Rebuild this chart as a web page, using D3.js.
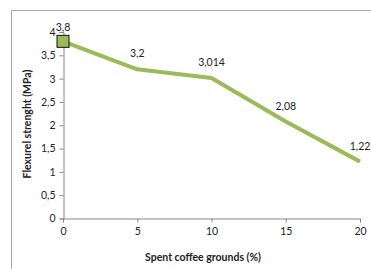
<!DOCTYPE html>
<html>
  <head>
    <meta charset="utf-8">
    <style>
      body { margin: 0; background: #fff; }
      text { font-family: Lato, "Open Sans", sans-serif; fill: #222; }
    </style>
  </head>
  <body>
    <div id="chart"></div>
    <script src="https://d3js.org/d3.v7.min.js"></script>
    <script>
      const coffee = [0, 5, 10, 15, 20];
      const strength = [3.8, 3.2, 3.014, 2.08, 1.22];
      const labels = ['3,8', '3,2', '3,014', '2,08', '1,22'];
      const yTicks = [0, 0.5, 1, 1.5, 2, 2.5, 3, 3.5, 4];
      const xTicks = [0, 5, 10, 15, 20];

      const W = 371, H = 269;
      const svg = d3.select('#chart').append('svg')
        .attr('width', W).attr('height', H);

      // outer frame (only top and left visible)
      svg.append('path')
        .attr('d', `M11.5,${H} V10.5 H${W}`)
        .attr('fill', 'none')
        .attr('stroke', '#aaa');

      let x = d3.scaleLinear().domain([0, 20]).range([63, 360]);
      let y = d3.scaleLinear().domain([0, 4]).range([218.5, 32]);

      const fmt = d => String(d).replace('.', ',');

      let yAxis = svg.append('g')
        .attr('transform', 'translate(63.5,0)')
        .call(d3.axisLeft(y).tickValues(yTicks).tickSize(4).tickFormat(fmt));
      let xAxis = svg.append('g')
        .attr('transform', 'translate(0,218.5)')
        .call(d3.axisBottom(x).tickValues(xTicks).tickSize(4).tickFormat(fmt));

      [yAxis, xAxis].forEach(a => {
        a.select('.domain').attr('stroke', '#888');
        a.selectAll('.tick line').attr('stroke', '#888');
        a.selectAll('text').style('font-size', '10.5px').attr('fill', '#222')
          .style('font-family', 'Lato, sans-serif');
      });
      yAxis.selectAll('text').attr('x', -8);
      xAxis.selectAll('text').attr('y', 9);

      const pts = coffee.map((c, i) => [c, strength[i]]);

      svg.append('path')
        .datum(pts)
        .attr('fill', 'none')
        .attr('stroke', '#9bbb59')
        .attr('stroke-width', 4)
        .attr('stroke-linejoin', 'round')
        .attr('d', d3.line().x(d => x(d[0])).y(d => y(d[1])));

      // marker on first point
      svg.append('rect')
        .attr('x', x(coffee[0]) - 6)
        .attr('y', y(strength[0]) - 6)
        .attr('width', 12).attr('height', 12)
        .attr('fill', '#9bbb59')
        .attr('stroke', '#111')
        .attr('stroke-width', 1);

      svg.append('g').selectAll('text')
        .data(pts)
        .enter()
        .append('text')
        .attr('x', d => x(d[0]))
        .attr('y', (d, i) => y(d[1]) - (i === 0 ? 10 : 12))
        .attr('text-anchor', 'middle')
        .style('font-size', '10.5px')
        .text((d, i) => labels[i]);

      svg.append('text')
        .attr('x', 203).attr('y', 261)
        .attr('text-anchor', 'middle')
        .style('font-size', '10.5px')
        .style('font-weight', 'bold')
        .text('Spent coffee grounds (%)');

      svg.append('text')
        .attr('transform', 'translate(31,124) rotate(-90)')
        .attr('text-anchor', 'middle')
        .style('font-size', '10.5px')
        .style('font-weight', 'bold')
        .text('Flexurel strenght (MPa)');
    </script>
  </body>
</html>
